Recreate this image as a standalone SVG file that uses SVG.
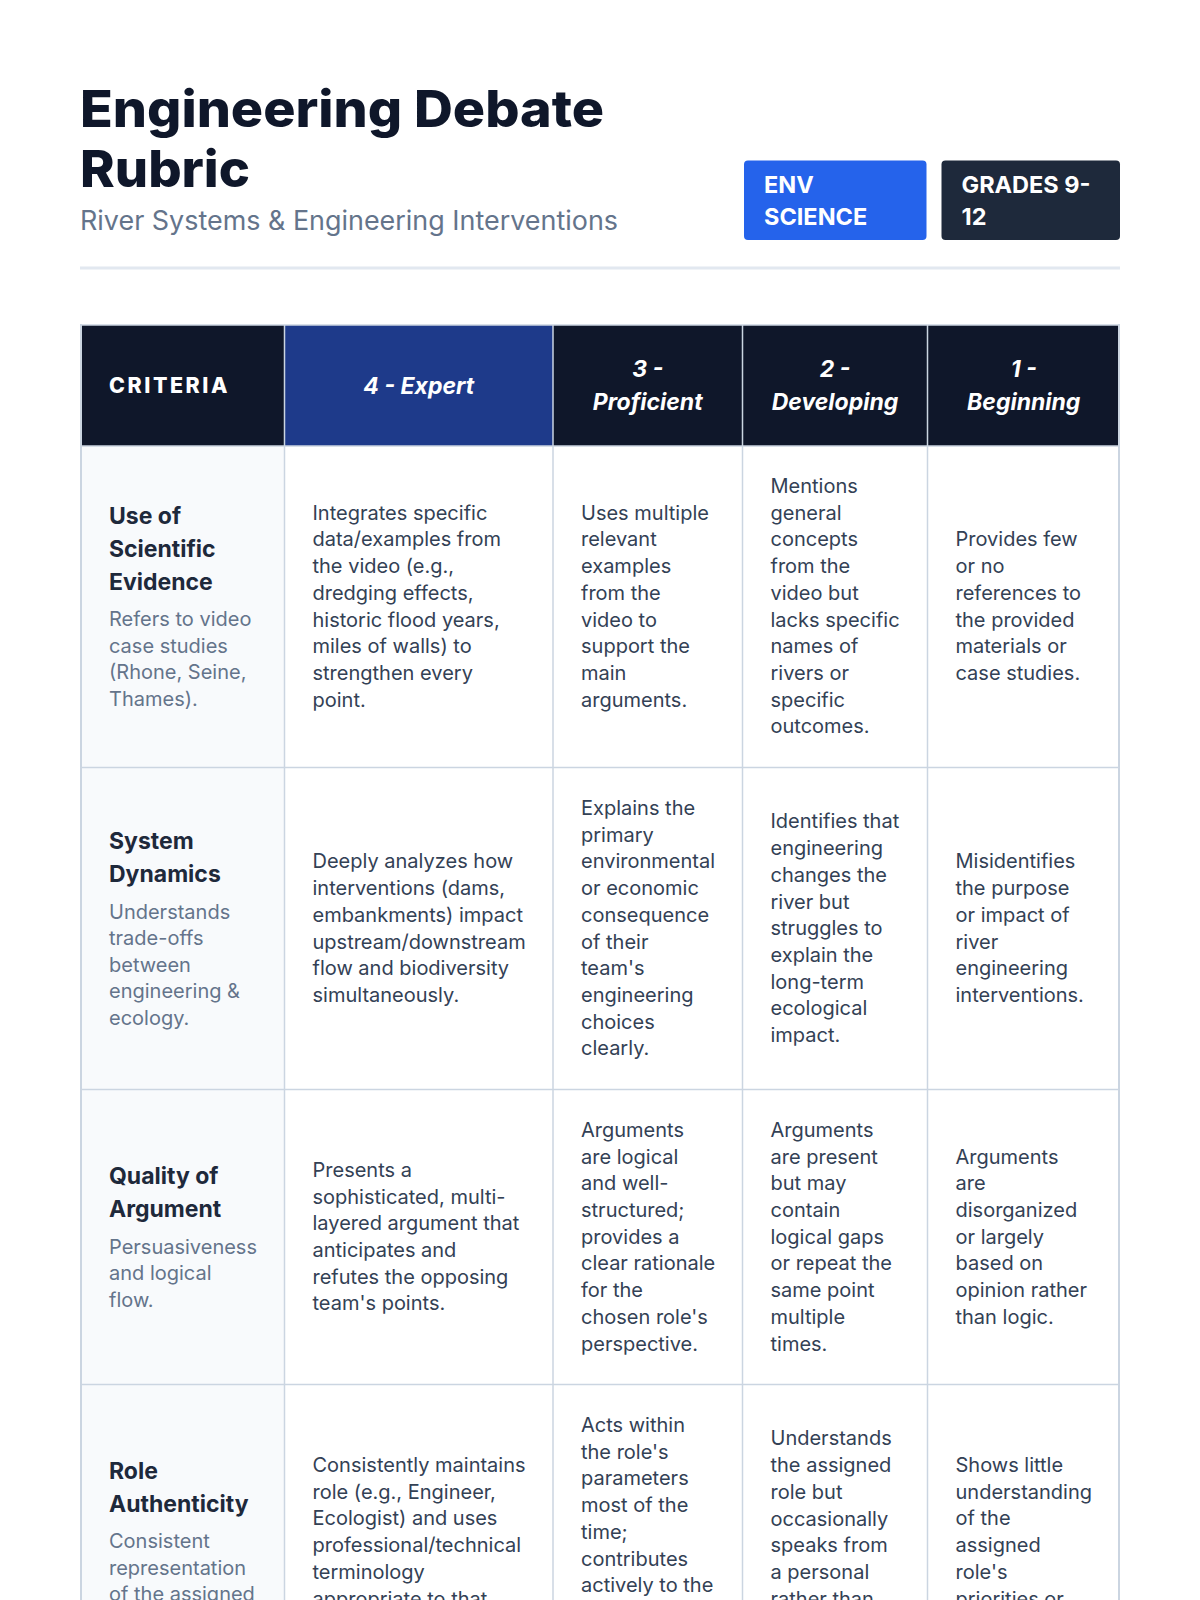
<svg xmlns="http://www.w3.org/2000/svg" width="1200" height="1600" viewBox="0 0 1200 1600">
<style>
text{font-family:Inter,"Liberation Sans",sans-serif}
.title{font-size:51px;font-weight:800;fill:#0f172a}
.sub{font-size:26.5px;fill:#64748b}
.badge{font-size:23.5px;font-weight:700;fill:#ffffff}
.hc{font-size:21px;font-weight:800;fill:#ffffff;letter-spacing:2.5px}
.hd{font-size:23px;font-weight:700;font-style:italic;fill:#ffffff;text-anchor:middle}
.ct{font-size:23px;font-weight:700;fill:#1e293b}
.cd{font-size:20px;fill:#64748b}
.b{font-size:20px;fill:#334155}
.grid line{stroke:#cbd5e1;stroke-width:1.5}
</style>
<rect width="1200" height="1600" fill="#ffffff"/>
<g id="page-header">
<text class="title" x="80" y="126.5" textLength="524" lengthAdjust="spacingAndGlyphs">Engineering Debate</text>
<text class="title" x="80" y="186.5" textLength="170" lengthAdjust="spacingAndGlyphs">Rubric</text>
<text class="sub" x="80" y="230" textLength="538" lengthAdjust="spacingAndGlyphs">River Systems &amp; Engineering Interventions</text>
</g>
<g id="badge-subject">
<rect x="744" y="160.5" width="182.5" height="79.5" rx="4" fill="#2563eb"/>
<text class="badge" x="764" y="192.7">ENV</text>
<text class="badge" x="764" y="225">SCIENCE</text>
</g>
<g id="badge-grades">
<rect x="941.5" y="160.5" width="178.5" height="79.5" rx="4" fill="#1e293b"/>
<text class="badge" x="961.5" y="192.7">GRADES 9-</text>
<text class="badge" x="961.5" y="225">12</text>
</g>
<rect x="80" y="266.5" width="1040" height="3" fill="#e2e8f0"/>
<g id="table-backgrounds">
<rect x="81" y="325" width="203.5" height="121" fill="#0f172a"/>
<rect x="284.5" y="325" width="268.5" height="121" fill="#1e3a8a"/>
<rect x="553" y="325" width="566" height="121" fill="#0f172a"/>
<rect x="81" y="446" width="203.5" height="1154" fill="#f8fafc"/>
</g>
<g id="grid" class="grid">
<line x1="81" y1="325" x2="1119" y2="325"/>
<line x1="81" y1="446" x2="1119" y2="446"/>
<line x1="81" y1="767.5" x2="1119" y2="767.5"/>
<line x1="81" y1="1089.5" x2="1119" y2="1089.5"/>
<line x1="81" y1="1384.5" x2="1119" y2="1384.5"/>
<line x1="81" y1="324" x2="81" y2="1600" style="stroke-width:2"/>
<line x1="284.5" y1="325" x2="284.5" y2="1600"/>
<line x1="553" y1="325" x2="553" y2="1600"/>
<line x1="742.5" y1="325" x2="742.5" y2="1600"/>
<line x1="927.5" y1="325" x2="927.5" y2="1600"/>
<line x1="1119" y1="324" x2="1119" y2="1600" style="stroke-width:2"/>
</g>
<g id="header-row">
<text class="hc" x="109" y="393" textLength="121" lengthAdjust="spacingAndGlyphs">CRITERIA</text>
<text class="hd" x="418.75" y="393.5">4 - Expert</text>
<text class="hd"><tspan x="647.75" y="376.7">3 -</tspan><tspan x="647.75" y="410">Proficient</tspan></text>
<text class="hd"><tspan x="835" y="376.7">2 -</tspan><tspan x="835" y="410">Developing</tspan></text>
<text class="hd"><tspan x="1023.75" y="376.7">1 -</tspan><tspan x="1023.75" y="410">Beginning</tspan></text>
</g>
<g id="row-evidence">
<text class="ct"><tspan x="109" y="524">Use of</tspan><tspan x="109" dy="33">Scientific</tspan><tspan x="109" dy="33">Evidence</tspan></text>
<text class="cd"><tspan x="109" y="626.3">Refers to video</tspan><tspan x="109" dy="26.5">case studies</tspan><tspan x="109" dy="26.5">(Rhone, Seine,</tspan><tspan x="109" dy="26.5">Thames).</tspan></text>
<text class="b"><tspan x="312.5" y="519.7">Integrates specific</tspan><tspan x="312.5" dy="26.7">data/examples from</tspan><tspan x="312.5" dy="26.7">the video (e.g.,</tspan><tspan x="312.5" dy="26.7">dredging effects,</tspan><tspan x="312.5" dy="26.7">historic flood years,</tspan><tspan x="312.5" dy="26.7">miles of walls) to</tspan><tspan x="312.5" dy="26.7">strengthen every</tspan><tspan x="312.5" dy="26.7">point.</tspan></text>
<text class="b"><tspan x="581" y="519.7">Uses multiple</tspan><tspan x="581" dy="26.7">relevant</tspan><tspan x="581" dy="26.7">examples</tspan><tspan x="581" dy="26.7">from the</tspan><tspan x="581" dy="26.7">video to</tspan><tspan x="581" dy="26.7">support the</tspan><tspan x="581" dy="26.7">main</tspan><tspan x="581" dy="26.7">arguments.</tspan></text>
<text class="b"><tspan x="770.5" y="493">Mentions</tspan><tspan x="770.5" dy="26.7">general</tspan><tspan x="770.5" dy="26.7">concepts</tspan><tspan x="770.5" dy="26.7">from the</tspan><tspan x="770.5" dy="26.7">video but</tspan><tspan x="770.5" dy="26.7">lacks specific</tspan><tspan x="770.5" dy="26.7">names of</tspan><tspan x="770.5" dy="26.7">rivers or</tspan><tspan x="770.5" dy="26.7">specific</tspan><tspan x="770.5" dy="26.7">outcomes.</tspan></text>
<text class="b"><tspan x="955.5" y="546.4">Provides few</tspan><tspan x="955.5" dy="26.7">or no</tspan><tspan x="955.5" dy="26.7">references to</tspan><tspan x="955.5" dy="26.7">the provided</tspan><tspan x="955.5" dy="26.7">materials or</tspan><tspan x="955.5" dy="26.7">case studies.</tspan></text>
</g>
<g id="row-dynamics">
<text class="ct"><tspan x="109" y="849.3">System</tspan><tspan x="109" dy="33">Dynamics</tspan></text>
<text class="cd"><tspan x="109" y="918.5">Understands</tspan><tspan x="109" dy="26.5">trade-offs</tspan><tspan x="109" dy="26.5">between</tspan><tspan x="109" dy="26.5">engineering &amp;</tspan><tspan x="109" dy="26.5">ecology.</tspan></text>
<text class="b"><tspan x="312.5" y="868.4">Deeply analyzes how</tspan><tspan x="312.5" dy="26.7">interventions (dams,</tspan><tspan x="312.5" dy="26.7">embankments) impact</tspan><tspan x="312.5" dy="26.7">upstream/downstream</tspan><tspan x="312.5" dy="26.7">flow and biodiversity</tspan><tspan x="312.5" dy="26.7">simultaneously.</tspan></text>
<text class="b"><tspan x="581" y="815">Explains the</tspan><tspan x="581" dy="26.7">primary</tspan><tspan x="581" dy="26.7">environmental</tspan><tspan x="581" dy="26.7">or economic</tspan><tspan x="581" dy="26.7">consequence</tspan><tspan x="581" dy="26.7">of their</tspan><tspan x="581" dy="26.7">team's</tspan><tspan x="581" dy="26.7">engineering</tspan><tspan x="581" dy="26.7">choices</tspan><tspan x="581" dy="26.7">clearly.</tspan></text>
<text class="b"><tspan x="770.5" y="828.4">Identifies that</tspan><tspan x="770.5" dy="26.7">engineering</tspan><tspan x="770.5" dy="26.7">changes the</tspan><tspan x="770.5" dy="26.7">river but</tspan><tspan x="770.5" dy="26.7">struggles to</tspan><tspan x="770.5" dy="26.7">explain the</tspan><tspan x="770.5" dy="26.7">long-term</tspan><tspan x="770.5" dy="26.7">ecological</tspan><tspan x="770.5" dy="26.7">impact.</tspan></text>
<text class="b"><tspan x="955.5" y="868.4">Misidentifies</tspan><tspan x="955.5" dy="26.7">the purpose</tspan><tspan x="955.5" dy="26.7">or impact of</tspan><tspan x="955.5" dy="26.7">river</tspan><tspan x="955.5" dy="26.7">engineering</tspan><tspan x="955.5" dy="26.7">interventions.</tspan></text>
</g>
<g id="row-argument">
<text class="ct"><tspan x="109" y="1184.3">Quality of</tspan><tspan x="109" dy="33">Argument</tspan></text>
<text class="cd"><tspan x="109" y="1253.5">Persuasiveness</tspan><tspan x="109" dy="26.5">and logical</tspan><tspan x="109" dy="26.5">flow.</tspan></text>
<text class="b"><tspan x="312.5" y="1176.9">Presents a</tspan><tspan x="312.5" dy="26.7">sophisticated, multi-</tspan><tspan x="312.5" dy="26.7">layered argument that</tspan><tspan x="312.5" dy="26.7">anticipates and</tspan><tspan x="312.5" dy="26.7">refutes the opposing</tspan><tspan x="312.5" dy="26.7">team's points.</tspan></text>
<text class="b"><tspan x="581" y="1136.9">Arguments</tspan><tspan x="581" dy="26.7">are logical</tspan><tspan x="581" dy="26.7">and well-</tspan><tspan x="581" dy="26.7">structured;</tspan><tspan x="581" dy="26.7">provides a</tspan><tspan x="581" dy="26.7">clear rationale</tspan><tspan x="581" dy="26.7">for the</tspan><tspan x="581" dy="26.7">chosen role's</tspan><tspan x="581" dy="26.7">perspective.</tspan></text>
<text class="b"><tspan x="770.5" y="1136.9">Arguments</tspan><tspan x="770.5" dy="26.7">are present</tspan><tspan x="770.5" dy="26.7">but may</tspan><tspan x="770.5" dy="26.7">contain</tspan><tspan x="770.5" dy="26.7">logical gaps</tspan><tspan x="770.5" dy="26.7">or repeat the</tspan><tspan x="770.5" dy="26.7">same point</tspan><tspan x="770.5" dy="26.7">multiple</tspan><tspan x="770.5" dy="26.7">times.</tspan></text>
<text class="b"><tspan x="955.5" y="1163.5">Arguments</tspan><tspan x="955.5" dy="26.7">are</tspan><tspan x="955.5" dy="26.7">disorganized</tspan><tspan x="955.5" dy="26.7">or largely</tspan><tspan x="955.5" dy="26.7">based on</tspan><tspan x="955.5" dy="26.7">opinion rather</tspan><tspan x="955.5" dy="26.7">than logic.</tspan></text>
</g>
<g id="row-role">
<text class="ct"><tspan x="109" y="1479">Role</tspan><tspan x="109" dy="33">Authenticity</tspan></text>
<text class="cd"><tspan x="109" y="1548.3">Consistent</tspan><tspan x="109" dy="26.5">representation</tspan><tspan x="109" dy="26.5">of the assigned</tspan></text>
<text class="b"><tspan x="312.5" y="1472">Consistently maintains</tspan><tspan x="312.5" dy="26.7">role (e.g., Engineer,</tspan><tspan x="312.5" dy="26.7">Ecologist) and uses</tspan><tspan x="312.5" dy="26.7">professional/technical</tspan><tspan x="312.5" dy="26.7">terminology</tspan><tspan x="312.5" dy="26.7">appropriate to that</tspan></text>
<text class="b"><tspan x="581" y="1432">Acts within</tspan><tspan x="581" dy="26.7">the role's</tspan><tspan x="581" dy="26.7">parameters</tspan><tspan x="581" dy="26.7">most of the</tspan><tspan x="581" dy="26.7">time;</tspan><tspan x="581" dy="26.7">contributes</tspan><tspan x="581" dy="26.7">actively to the</tspan></text>
<text class="b"><tspan x="770.5" y="1445.4">Understands</tspan><tspan x="770.5" dy="26.7">the assigned</tspan><tspan x="770.5" dy="26.7">role but</tspan><tspan x="770.5" dy="26.7">occasionally</tspan><tspan x="770.5" dy="26.7">speaks from</tspan><tspan x="770.5" dy="26.7">a personal</tspan><tspan x="770.5" dy="26.7">rather than</tspan></text>
<text class="b"><tspan x="955.5" y="1472">Shows little</tspan><tspan x="955.5" dy="26.7">understanding</tspan><tspan x="955.5" dy="26.7">of the</tspan><tspan x="955.5" dy="26.7">assigned</tspan><tspan x="955.5" dy="26.7">role's</tspan><tspan x="955.5" dy="26.7">priorities or</tspan></text>
</g>
</svg>
